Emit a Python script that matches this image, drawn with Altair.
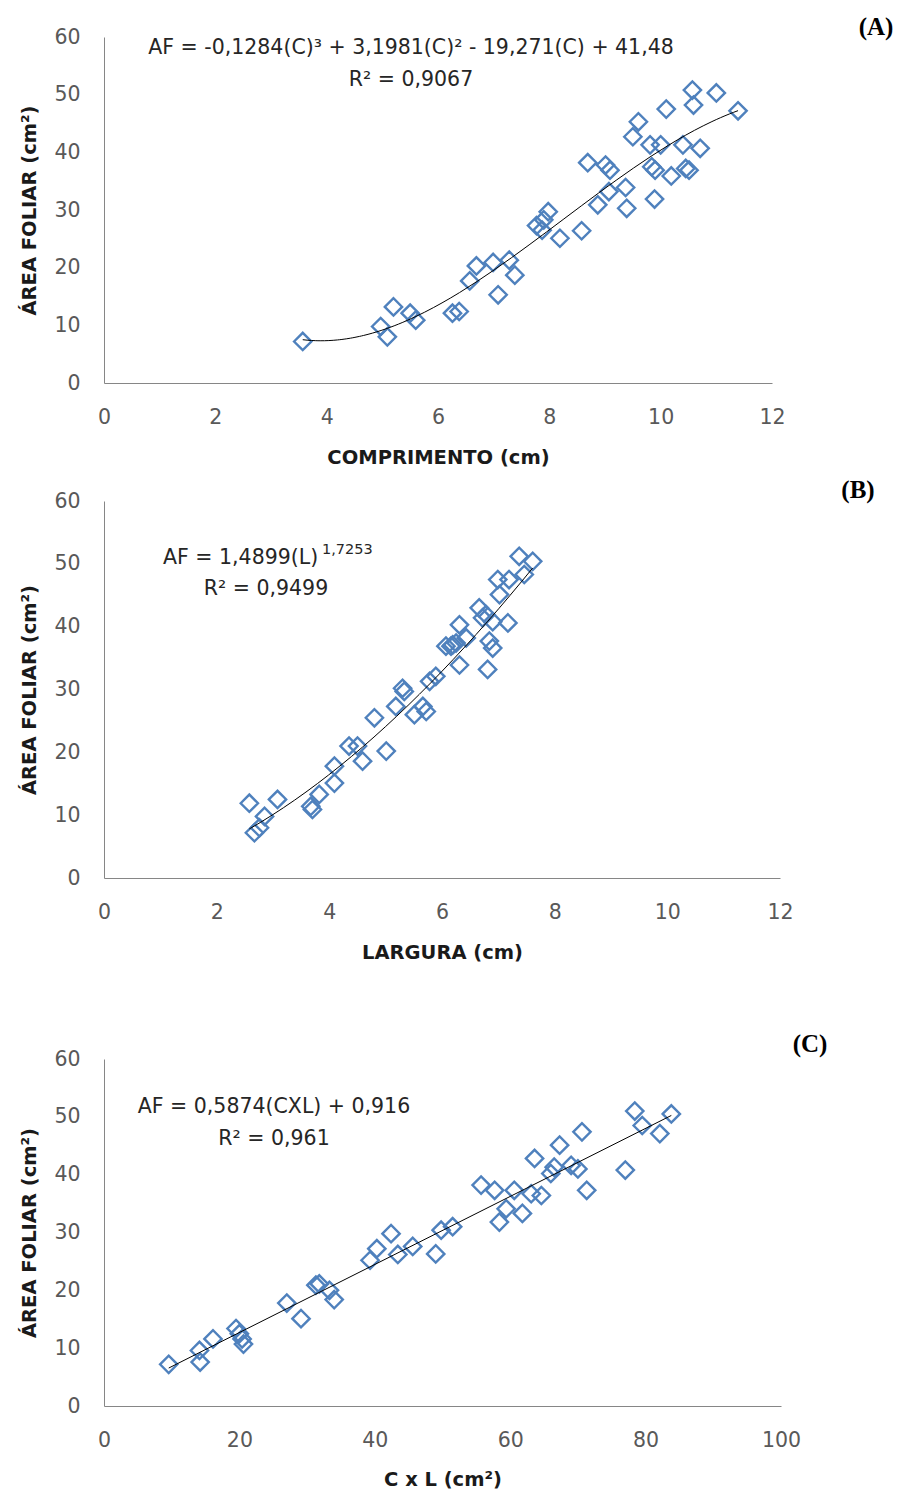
import altair as alt
import pandas as pd

FONT = "DejaVu Sans"
SERIF = "Liberation Serif"
BLUE = "#4F81BD"

# ---- Panel A: comprimento vs área foliar ----
a_comp = [3.57, 4.97, 5.09, 5.20, 5.50, 5.60, 6.26, 6.38, 6.57, 6.69, 6.99, 7.08, 7.28, 7.38,
          7.77, 7.87, 7.98, 7.90, 8.19, 8.58, 8.69, 8.87, 9.01, 9.09, 9.07, 9.37, 9.39, 9.50,
          9.60, 9.81, 9.84, 9.90, 9.89, 10.0, 10.10, 10.19, 10.40, 10.45, 10.51, 10.57, 10.59,
          10.71, 11.0, 11.39]
a_area = [7.2, 9.8, 8.0, 13.2, 12.1, 10.9, 12.1, 12.4, 17.7, 20.3, 20.9, 15.3, 21.3, 18.7,
          27.3, 26.5, 29.7, 28.3, 25.1, 26.4, 38.2, 30.9, 37.8, 36.9, 33.2, 33.9, 30.3, 42.7,
          45.3, 41.3, 37.5, 36.9, 31.9, 41.3, 47.5, 35.9, 41.3, 37.2, 36.9, 50.8, 48.2,
          40.7, 50.3, 47.2]

# ---- Panel B: largura vs área foliar ----
b_larg = [2.58, 2.67, 2.76, 2.85, 3.08, 3.67, 3.70, 3.82, 4.09, 4.09, 4.35, 4.50, 4.59, 4.80,
          5.01, 5.18, 5.30, 5.33, 5.51, 5.66, 5.72, 5.78, 5.89, 6.07, 6.16, 6.19, 6.25, 6.31,
          6.31, 6.43, 6.66, 6.72, 6.78, 6.81, 6.84, 6.90, 6.90, 6.99, 7.02, 7.17, 7.19, 7.37,
          7.46, 7.61]
b_area = [11.9, 7.2, 8.0, 9.8, 12.5, 11.4, 10.9, 13.3, 15.1, 17.8, 21.0, 21.0, 18.6, 25.5,
          20.2, 27.3, 30.2, 29.7, 26.0, 27.3, 26.5, 31.3, 32.1, 36.9, 36.9, 37.1, 37.4, 33.9,
          40.3, 38.2, 43.0, 41.4, 41.9, 33.2, 37.7, 36.6, 40.8, 47.5, 45.1, 40.6, 47.5, 51.2,
          48.3, 50.4]

# ---- Panel C: C x L vs área foliar ----
c_cxl = [9.56, 14.1, 14.2, 16.1, 19.5, 20.0, 20.4, 20.6, 27.0, 29.1, 31.3, 31.8, 33.3, 34.0,
         39.3, 40.3, 42.4, 43.4, 45.6, 49.0, 49.8, 51.5, 55.7, 57.7, 58.4, 59.4, 60.6, 61.8,
         63.1, 63.6, 64.6, 66.0, 66.5, 67.3, 69.0, 70.0, 70.6, 71.3, 77.0, 78.4, 79.5, 82.1,
         83.8]
c_area = [7.2, 9.6, 7.6, 11.6, 13.4, 12.5, 11.6, 10.7, 17.8, 15.1, 20.9, 21.1, 20.0, 18.4,
          25.2, 27.2, 29.8, 26.2, 27.6, 26.3, 30.4, 31.0, 38.2, 37.3, 31.8, 34.1, 37.3, 33.3,
          36.7, 42.8, 36.4, 40.2, 41.3, 45.1, 41.6, 41.0, 47.4, 37.3, 40.8, 51.0, 48.5, 47.1,
          50.5]

y_ticks = [0, 10, 20, 30, 40, 50, 60]
ab_x_ticks = [0, 2, 4, 6, 8, 10, 12]
c_x_ticks = [0, 20, 40, 60, 80, 100]

Y_TITLE = "ÁREA FOLIAR (cm²)"
EQ_SIZE = 20.5


def one():
    return alt.Data(values=[{}])


def panel(xs, ys, xtitle, xticks, w, h, reg_kwargs, texts, label, label_pos, xtitle_pad=21):
    df = pd.DataFrame({"x": xs, "y": ys})
    xenc = alt.X("x:Q", scale=alt.Scale(domain=[xticks[0], xticks[-1]], nice=False),
                 axis=alt.Axis(values=xticks, title=xtitle, format="d", labelFlush=False,
                               titlePadding=xtitle_pad))
    yenc = alt.Y("y:Q", scale=alt.Scale(domain=[0, 60], nice=False),
                 axis=alt.Axis(values=y_ticks, title=Y_TITLE, format="d", titlePadding=14,
                               labelFlush=False))
    pts = alt.Chart(df).mark_point(shape="diamond", filled=False, size=300, strokeWidth=2.4,
                                   color=BLUE, opacity=1).encode(x=xenc, y=yenc)
    line = alt.Chart(df).transform_regression("x", "y", **reg_kwargs).mark_line(
        color="#000000", strokeWidth=1).encode(x="x:Q", y="y:Q")
    layers = [pts, line]
    for t in texts:
        txt, px, py, size, align = t
        layers.append(alt.Chart(one()).mark_text(
            text=txt, font=FONT, fontSize=size, color="#262626", align=align,
            baseline="middle").encode(x=alt.value(px), y=alt.value(py)))
    layers.append(alt.Chart(one()).mark_text(
        text=label, font=SERIF, fontSize=25, fontWeight="bold", color="#000000",
        align="center", baseline="middle").encode(x=alt.value(label_pos[0]), y=alt.value(label_pos[1])))
    return alt.layer(*layers).properties(width=w, height=h)


A = panel(a_comp, a_area, "COMPRIMENTO (cm)", ab_x_ticks, 668, 346,
          dict(method="poly", order=3),
          [("AF = -0,1284(C)³ + 3,1981(C)² - 19,271(C) + 41,48", 307, 11, EQ_SIZE, "center"),
           ("R² = 0,9067", 307, 43, EQ_SIZE, "center")],
          "(A)", (772, -10))

B = panel(b_larg, b_area, "LARGURA (cm)", ab_x_ticks, 676, 377,
          dict(method="pow"),
          [("AF = 1,4899(L)", 59, 57, EQ_SIZE, "left"),
           ("1,7253", 218, 49, 14.5, "left"),
           ("R² = 0,9499", 162, 88, EQ_SIZE, "center")],
          "(B)", (754, -11))

C = panel(c_cxl, c_area, "C x L (cm²)", c_x_ticks, 677, 347,
          dict(method="linear"),
          [("AF = 0,5874(CXL) + 0,916", 170, 48, EQ_SIZE, "center"),
           ("R² = 0,961", 170, 80, EQ_SIZE, "center")],
          "(C)", (706, -15), xtitle_pad=20)

chart = alt.vconcat(alt.vconcat(A, B, spacing=11), C, spacing=70).properties(
    padding={"left": 19, "top": 15, "right": 0, "bottom": 5},
    background="white",
).configure_view(stroke=None).configure_axis(
    grid=False, ticks=False, tickSize=0,
    domainColor="#868686", domainWidth=1,
    labelFont=FONT, labelFontSize=20.5, labelColor="#595959", labelPadding=24,
    titleFont=FONT, titleFontSize=19.5, titleFontWeight="bold", titleColor="#1a1a1a",
).configure_concat(spacing=10)

chart.save("out.html", embed_options={"renderer": "svg", "actions": False})
